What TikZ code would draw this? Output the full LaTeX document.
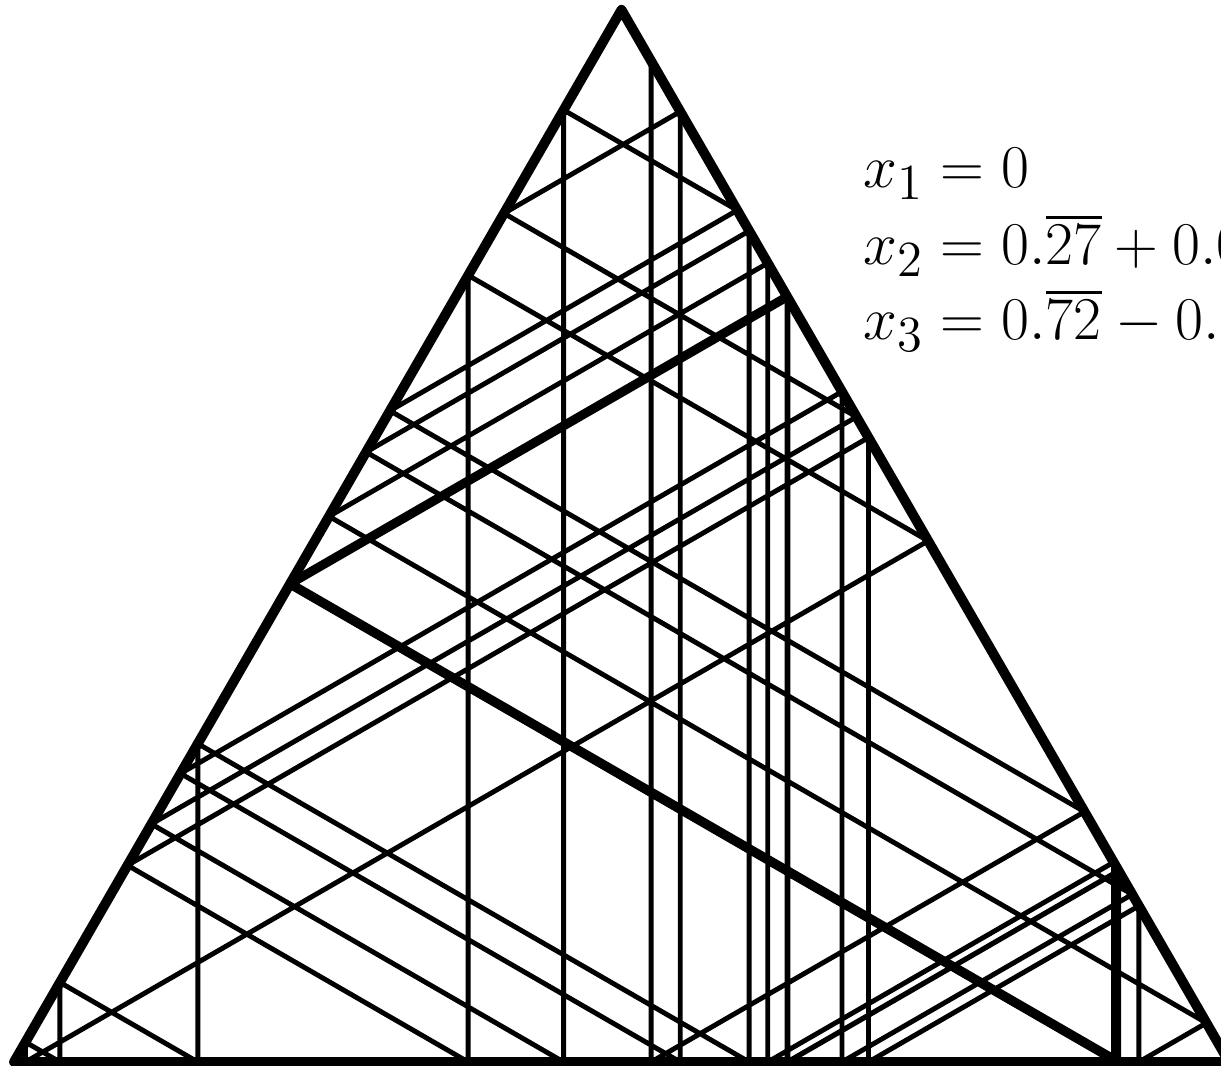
\documentclass[tikz,border=0pt]{standalone}
\usepackage{amsmath}
\tikzset{
	triside/.style={line width=2.8pt, line join=round},
	orbit/.style={line width=1.4pt},
	firstleg/.style={line width=2.6pt, line join=round},
	label/.style={anchor=base west, inner sep=0pt, font=\fontsize{19}{22}\selectfont},
}

\begin{document}
\begin{tikzpicture}[
	declare function={
		bx(\s)=(\s<11) ? (12.15*\s/11) : ((\s<22) ? (12.15-12.15*(\s-11)/22) : (12.15*(33-\s)/22));
		by(\s)=(\s<11) ? 0 : ((\s<22) ? (10.5222*(\s-11)/11) : (10.5222*(33-\s)/11));
	}]
	\useasboundingbox (-0.14,-0.04) rectangle (12.07,10.62);
	% s runs round the rim: 0..11 on AB, 11..22 on BC, 22..33 on CA

	% Triangle
	\coordinate (A) at (0,0);
	\coordinate (B) at (12.15,0);
	\coordinate (C) at (6.075,10.5222);
	\draw[triside] (A) -- (B) -- (C) -- cycle;

	% Orbit, s -> -2s mod 33
	\draw[orbit] ({bx(19)},{by(19)})
	\foreach \s in {28.0000,10.0000,13.0000,7.0000,19.0003,27.9993,10.0014,12.9973,7.0055,
		18.989,28.022,9.956,13.088,6.824,19.352,27.296,11.408,10.184,12.632,
		7.736,17.528,30.944,4.112,24.776,16.448,0.104,32.792,0.416,32.168,
		1.664,29.672,6.656,19.688,26.624,12.752,7.496,18.008,29.984,6.032,
		20.936,24.128,17.744,30.512,4.976,23.048,19.904,26.192,13.616,5.768,21.464}
	{ -- ({bx(\s)},{by(\s)}) };

	% First two legs from the start point
	\coordinate (P0) at ({bx(19)},{by(19)});
	\coordinate (P1) at ({bx(28)},{by(28)});
	\coordinate (P2) at ({bx(10)},{by(10)});
	\draw[firstleg] (P0) -- (P1) -- (P2);

	% Start point
	\node[label] (x1) at (8.49,8.74) {$x_1 = 0$};
	\node[label] (x2) at (8.49,7.97) {$x_2 = 0.\overline{27} + 0.000001$};
	\node[label] (x3) at (8.49,7.22) {$x_3 = 0.\overline{72} - 0.000001$};
\end{tikzpicture}
\end{document}
